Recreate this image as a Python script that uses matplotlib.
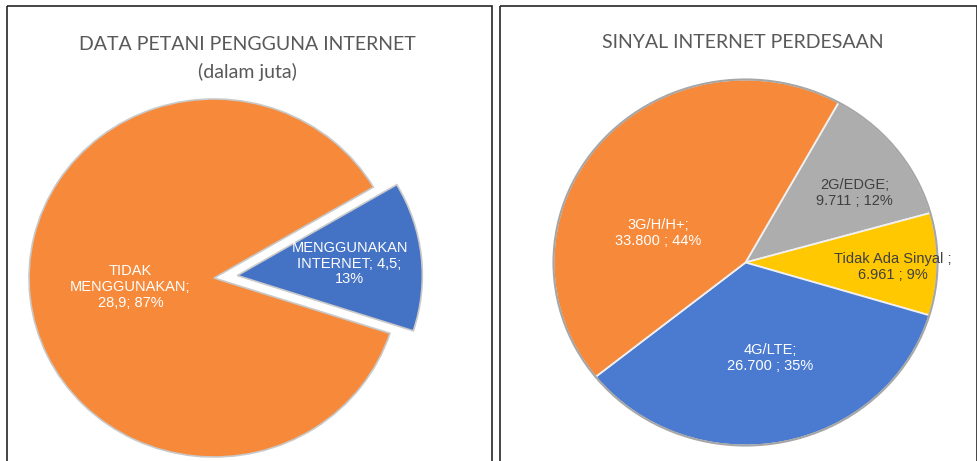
import numpy as np
import matplotlib.pyplot as plt
from matplotlib.patches import Rectangle, Ellipse

# left chart: farmers using internet (million)
farm_labels = ['MENGGUNAKAN\nINTERNET; 4,5;\n13%', 'TIDAK\nMENGGUNAKAN;\n28,9; 87%']
farm_values = [4.5, 28.9]

# right chart: rural internet signal
sig_labels = ['2G/EDGE;\n9.711 ; 12%', 'Tidak Ada Sinyal ;\n6.961 ; 9%',
              '4G/LTE;\n26.700 ; 35%', '3G/H/H+;\n33.800 ; 44%']
sig_values = [9.711, 6.961, 26.700, 33.800]

W, H = 978, 461
fig = plt.figure(figsize=(W / 100, H / 100), dpi=100)
bg = fig.add_axes([0, 0, 1, 1])
bg.set_xlim(0, W)
bg.set_ylim(H, 0)
bg.axis('off')

# panel frames (bottom runs off the picture)
bg.add_patch(Rectangle((6.5, 6.5), 485, 470, fill=False, ec='#262626', lw=1.2))
bg.add_patch(Rectangle((499.5, 6.5), 477, 470, fill=False, ec='#262626', lw=1.2))

title_kw = dict(ha='center', va='center', color='#595959', family='Lato', fontsize=14)
bg.text(247, 45, 'DATA PETANI PENGGUNA INTERNET', **title_kw)
bg.text(247, 72, '(dalam juta)', **title_kw)
bg.text(743, 42, 'SINYAL INTERNET PERDESAAN', **title_kw)


def pie_axes(cx, cy, rx, ry, pad=1.25):
    ax = fig.add_axes([(cx - rx * pad) / W, (H - cy - ry * pad) / H,
                       2 * rx * pad / W, 2 * ry * pad / H])
    ax.set_xlim(-pad, pad)
    ax.set_ylim(-pad, pad)
    ax.set_aspect('auto')
    ax.axis('off')
    return ax


def place_labels(ax, wedges, labels, radii, dtheta, colors, explode):
    for w, lab, r, dt, c, ex in zip(wedges, labels, radii, dtheta, colors, explode):
        mid = np.deg2rad((w.theta1 + w.theta2) / 2)
        ang = mid + np.deg2rad(dt)
        x = ex * np.cos(mid) + r * np.cos(ang)
        y = ex * np.sin(mid) + r * np.sin(ang)
        ax.text(x, y, lab, ha='center', va='center', color=c,
                family='Liberation Sans', fontsize=10.5, linespacing=1.15)


# left pie
ax1 = pie_axes(214, 278, 185, 179)
explode1 = [0.127, 0]
w1, _ = ax1.pie(farm_values, colors=['#4472C4', '#F68A3A'], startangle=-18,
                explode=explode1, radius=1,
                wedgeprops=dict(edgecolor='#c9c9c9', linewidth=1.2))
ax1.set_xlim(-1.25, 1.25)
ax1.set_ylim(-1.25, 1.25)
ax1.set_aspect('auto')
place_labels(ax1, w1, farm_labels, [0.61, 0.455], [0, 0], ['white', 'white'], explode1)

# right pie
ax2 = pie_axes(745.5, 262.5, 192, 183)
w2, _ = ax2.pie(sig_values, colors=['#ADADAD', '#FFC800', '#4A7BD0', '#F68A3A'],
                startangle=61, counterclock=False, radius=1,
                wedgeprops=dict(edgecolor='#f0f0f0', linewidth=1.3))
ax2.set_xlim(-1.25, 1.25)
ax2.set_ylim(-1.25, 1.25)
ax2.set_aspect('auto')
ax2.add_patch(Ellipse((0, 0), 2, 2, fill=False, ec='#a6a6a6', lw=1.5))
place_labels(ax2, w2, sig_labels, [0.685, 0.768, 0.537, 0.484], [-4.6, -1.4, 2.9, 20.8],
             ['#404040', '#404040', 'white', 'white'], [0, 0, 0, 0])

fig.savefig('out.png', dpi=100)
